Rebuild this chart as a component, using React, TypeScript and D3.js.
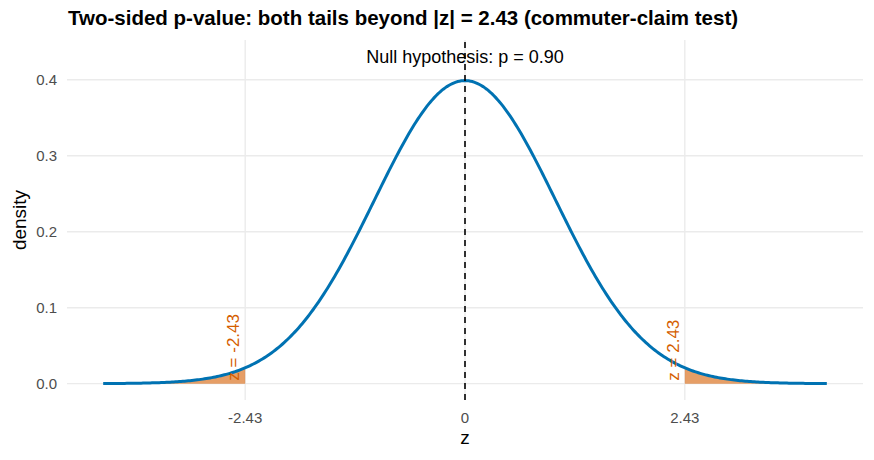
import React, { useEffect, useRef } from 'react';
import * as d3 from 'd3';

// test setup: standard normal null, observed |z|
const criticalZ = 2.43;
const zRange = [-4, 4];
const nullLabel = 'Null hypothesis: p = 0.90';
const xTicks = [-2.43, 0, 2.43];
const yTicks = [0, 0.1, 0.2, 0.3, 0.4];

const dnorm = (z: number) => Math.exp(-0.5 * z * z) / Math.sqrt(2 * Math.PI);

const App = () => {
  const svgRef = useRef(null);

  useEffect(() => {
    if (!svgRef.current) return;

    const width = 874;
    const height = 460;
    const margin = { top: 40, right: 11, bottom: 60, left: 67 };
    const font = '"Liberation Sans", Arial, sans-serif';

    const svg = d3.select(svgRef.current);
    svg.selectAll('*').remove();

    const curve = d3.range(zRange[0], zRange[1] + 1e-9, 0.02).map((z) => ({ z, d: dnorm(z) }));
    const yMax = dnorm(0) * 1.08;

    const xPad = (zRange[1] - zRange[0]) * 0.05;
    const x = d3
      .scaleLinear()
      .domain([zRange[0] - xPad, zRange[1] + xPad])
      .range([margin.left, width - margin.right]);
    const y = d3
      .scaleLinear()
      .domain([-0.05 * yMax, 1.05 * yMax])
      .range([height - margin.bottom, margin.top]);

    const g = svg.append('g');

    // grid
    g.selectAll('line.hgrid')
      .data(yTicks)
      .enter()
      .append('line')
      .attr('x1', x.range()[0])
      .attr('x2', x.range()[1])
      .attr('y1', (d) => y(d))
      .attr('y2', (d) => y(d))
      .attr('stroke', '#EBEBEB')
      .attr('stroke-width', 1.4);
    g.selectAll('line.vgrid')
      .data(xTicks)
      .enter()
      .append('line')
      .attr('x1', (d) => x(d))
      .attr('x2', (d) => x(d))
      .attr('y1', y.range()[0])
      .attr('y2', y.range()[1])
      .attr('stroke', '#EBEBEB')
      .attr('stroke-width', 1.4);

    // shaded tails
    const area = d3
      .area<{ z: number; d: number }>()
      .x((d) => x(d.z))
      .y0(y(0))
      .y1((d) => y(d.d));
    const leftTail = curve.filter((p) => p.z <= -criticalZ).concat([{ z: -criticalZ, d: dnorm(-criticalZ) }]);
    const rightTail = [{ z: criticalZ, d: dnorm(criticalZ) }].concat(curve.filter((p) => p.z >= criticalZ));
    [leftTail, rightTail].forEach((tail) => {
      g.append('path').attr('d', area(tail)).attr('fill', '#D55E00').attr('fill-opacity', 0.6);
    });

    // density curve
    const line = d3
      .line<{ z: number; d: number }>()
      .x((d) => x(d.z))
      .y((d) => y(d.d));
    g.append('path')
      .attr('d', line(curve))
      .attr('fill', 'none')
      .attr('stroke', '#0072B2')
      .attr('stroke-width', 3);

    // null mean
    g.append('line')
      .attr('x1', x(0))
      .attr('x2', x(0))
      .attr('y1', y.range()[0])
      .attr('y2', y.range()[1])
      .attr('stroke', 'black')
      .attr('stroke-width', 1.6)
      .attr('stroke-dasharray', '6,5');

    g.append('text')
      .attr('x', x(0))
      .attr('y', y(yMax))
      .attr('dy', '0.35em')
      .attr('text-anchor', 'middle')
      .attr('font-family', font)
      .attr('font-size', 18)
      .attr('fill', 'black')
      .text(nullLabel);

    // critical labels
    [-criticalZ, criticalZ].forEach((c) => {
      g.append('text')
        .attr('transform', `translate(${x(c) - 6},${y(0) - 3}) rotate(-90)`)
        .attr('font-family', font)
        .attr('font-size', 17)
        .attr('fill', '#D55E00')
        .text(`z = ${c.toFixed(2)}`);
    });

    // axes text
    g.selectAll('text.ytick')
      .data(yTicks)
      .enter()
      .append('text')
      .attr('x', margin.left - 10)
      .attr('y', (d) => y(d))
      .attr('dy', '0.35em')
      .attr('text-anchor', 'end')
      .attr('font-family', font)
      .attr('font-size', 15)
      .attr('fill', '#4D4D4D')
      .text((d) => d.toFixed(1));
    g.selectAll('text.xtick')
      .data(xTicks)
      .enter()
      .append('text')
      .attr('x', (d) => x(d))
      .attr('y', y.range()[0] + 18)
      .attr('dy', '0.35em')
      .attr('text-anchor', 'middle')
      .attr('font-family', font)
      .attr('font-size', 15)
      .attr('fill', '#4D4D4D')
      .text((d) => (d === 0 ? '0' : d.toFixed(2)));

    g.append('text')
      .attr('x', (x.range()[0] + x.range()[1]) / 2)
      .attr('y', 444)
      .attr('text-anchor', 'middle')
      .attr('font-family', font)
      .attr('font-size', 19)
      .attr('fill', 'black')
      .text('z');
    g.append('text')
      .attr('transform', `translate(26,${(y.range()[0] + y.range()[1]) / 2}) rotate(-90)`)
      .attr('text-anchor', 'middle')
      .attr('font-family', font)
      .attr('font-size', 19)
      .attr('fill', 'black')
      .text('density');

    g.append('text')
      .attr('x', margin.left + 1)
      .attr('y', 25)
      .attr('font-family', font)
      .attr('font-size', 20.5)
      .attr('font-weight', 'bold')
      .attr('fill', 'black')
      .text('Two-sided p-value: both tails beyond |z| = 2.43 (commuter-claim test)');
  }, []);

  return (
    <div style={{ margin: -8 }}>
      <svg ref={svgRef} width={874} height={460} style={{ display: 'block', background: 'white' }} />
    </div>
  );
};

export default App;
